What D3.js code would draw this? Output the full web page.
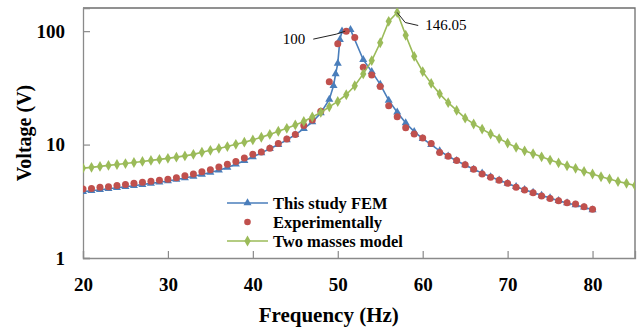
<!DOCTYPE html>
<html>
<head>
<meta charset="utf-8">
<script src="https://cdn.jsdelivr.net/npm/d3@7"></script>
<style>
  body { margin: 0; background: #fff; }
  svg { display: block; }
</style>
</head>
<body>
<div id="chart"></div>
<script>
//svg size
var svgWidth = 638;
var svgHeight = 331;

//plot area
var margin = { top: 8, right: 3, bottom: 73, left: 83 };
var width = svgWidth - margin.left - margin.right;
var height = svgHeight - margin.top - margin.bottom;

var serif = "'Liberation Serif', 'Times New Roman', serif";

//this study FEM
var femFreq = [20,21,22,23,24,25,26,27,28,29,30,31,32,33,34,35,36,37,38,39,40,41,42,43,44,45,46,47,48,
    49,49.5,49.75,50,50.25,50.5,51.5,53,54,55,56,57,58,59,60,61,62,63,64,65,66,67,68,69,70,71,72,73,74,75,76,77,78,79,80];
var femVolt = [3.85,3.92,4.0,4.08,4.16,4.25,4.34,4.44,4.55,4.66,4.78,4.92,5.07,5.25,5.45,5.68,5.95,6.28,6.7,7.2,
    7.8,8.45,9.2,10.0,11.0,12.2,13.8,15.8,19.0,
    25,33,42,52,84,100,103,56,44,34,24.5,19.3,15.5,13,11.3,10,8.8,7.9,7.2,6.6,6.05,5.6,5.2,4.85,
    4.55,4.25,4.0,3.78,3.57,3.38,3.2,3.06,2.93,2.8,2.66];

//experimentally
var expFreq = [20,21,22,23,24,25,26,27,28,29,30,31,32,33,34,35,36,37,38,39,40,41,42,43,44,45,46,47,48,49,
    50,51,52,53,54,55,56,57,58,59,60,61,62,63,64,65,66,67,68,69,70,71,72,73,74,75,76,77,78,79,80];
var expVolt = [4.05,4.1,4.2,4.25,4.35,4.45,4.55,4.65,4.75,4.85,4.95,5.1,5.3,5.5,5.75,6.0,6.35,6.7,7.1,7.6,
    8.2,8.6,9.3,10.2,11.2,12.3,14.7,16.5,19.7,35.8,77.6,100,88,48,41,32.5,22,17.6,14.1,12.4,
    11.4,10.2,8.5,7.9,7.25,6.65,6.05,5.5,5.15,4.85,4.55,4.2,3.97,3.76,3.52,3.35,3.2,3.07,2.99,2.83,2.69];

//two masses model
var twoFreq = [20,21,22,23,24,25,26,27,28,29,30,31,32,33,34,35,36,37,38,39,40,41,42,43,44,45,46,47,48,49,
    50,51,52,53,54,55,56,57,58,59,60,61,62,63,64,65,66,67,68,69,70,71,72,73,74,75,76,77,78,79,80,81,82,83,84,85];
var twoVolt = [6.2,6.3,6.42,6.55,6.68,6.8,6.95,7.1,7.25,7.4,7.56,7.75,7.95,8.2,8.55,8.9,9.25,9.6,10.05,10.5,
    11.0,11.6,12.3,13.1,13.9,14.9,16.0,17.5,19.2,21.5,24.0,27.5,33,42,55,79,122,146.05,92,60,
    44,34.6,28,23.4,20,17.1,15.2,13.7,12.4,11.3,10.3,9.45,8.8,8.3,7.8,7.3,6.9,6.5,6.17,5.8,
    5.5,5.2,4.97,4.72,4.55,4.36];

//ticks and labels
var xTicks = [20,30,40,50,60,70,80];
var yTicks = [1,10,100];
var seriesNames = ["This study FEM", "Experimentally", "Two masses model"];
var peakLabels = ["100", "146.05"];

var colors = { fem: "#4a7ebb", exp: "#c0504d", two: "#9bbb59" };

var svg = d3.select("#chart").append("svg")
    .attr("width", svgWidth)
    .attr("height", svgHeight);

var chartGroup = svg.append("g")
    .attr("transform", `translate(${margin.left}, ${margin.top})`);

var xScale = d3.scaleLinear().domain([20, 85]).range([0, width]);
var yScale = d3.scaleLog().domain([1, 160]).range([height, 0]);

//clip
svg.append("defs").append("clipPath").attr("id", "clip")
    .append("rect").attr("width", width).attr("height", height);

//top + right border
chartGroup.append("path")
    .attr("d", `M0,0 H${width} V${height}`)
    .attr("fill", "none")
    .attr("stroke", "#6e6e6e")
    .attr("stroke-width", 1.3);

//x axis
var xAxis = chartGroup.append("g")
    .attr("transform", `translate(0, ${height})`)
    .call(d3.axisBottom(xScale).tickValues(xTicks).tickSize(-7).tickFormat(d3.format("d")));
xAxis.selectAll("text").attr("y", 20).attr("dy", "0.71em");

//y axis
var yAxis = chartGroup.append("g")
    .call(d3.axisLeft(yScale).tickValues(yTicks).tickSize(-7).tickFormat(d3.format("d")));
yAxis.selectAll("text").attr("x", -18);

[xAxis, yAxis].forEach(function(ax) {
    ax.attr("font-family", null).attr("font-size", null);
    ax.selectAll("text")
        .style("font-family", serif)
        .style("font-weight", "bold")
        .style("font-size", "19px")
        .attr("fill", "#000");
    ax.select(".domain").attr("stroke", "#8a8a8a").attr("stroke-width", 1.3);
    ax.selectAll(".tick line").attr("stroke", "#8a8a8a").attr("stroke-width", 1.2);
});

var plot = chartGroup.append("g").attr("clip-path", "url(#clip)");

var line = d3.line()
    .x(d => xScale(d[0]))
    .y(d => yScale(d[1]));

var femData = d3.zip(femFreq, femVolt);
var expData = d3.zip(expFreq, expVolt);
var twoData = d3.zip(twoFreq, twoVolt);

var triangle = d3.symbol().type(d3.symbolTriangle).size(28);
var diamond = d3.symbol().type(d3.symbolDiamond).size(34);

//FEM line + triangles
plot.append("path").datum(femData)
    .attr("d", line).attr("fill", "none")
    .attr("stroke", colors.fem).attr("stroke-width", 1.6);
plot.selectAll(".fem").data(femData).enter().append("path")
    .attr("transform", d => `translate(${xScale(d[0])}, ${yScale(d[1])})`)
    .attr("d", triangle).attr("fill", colors.fem);

//experimental dots
plot.selectAll(".exp").data(expData).enter().append("circle")
    .attr("cx", d => xScale(d[0]))
    .attr("cy", d => yScale(d[1]))
    .attr("r", 3.5)
    .attr("fill", colors.exp);

//two masses line + diamonds
plot.append("path").datum(twoData)
    .attr("d", line).attr("fill", "none")
    .attr("stroke", colors.two).attr("stroke-width", 1.6);
plot.selectAll(".two").data(twoData).enter().append("path")
    .attr("transform", d => `translate(${xScale(d[0])}, ${yScale(d[1])})`)
    .attr("d", diamond).attr("fill", colors.two);

//peak annotations
var p1 = [xScale(51), yScale(100)];
chartGroup.append("path")
    .attr("d", `M${p1[0] - 33},${p1[1] + 8} L${p1[0] - 10},${p1[1] + 3} L${p1[0] - 1},${p1[1]}`)
    .attr("fill", "none").attr("stroke", "#222").attr("stroke-width", 1);
chartGroup.append("text")
    .attr("x", p1[0] - 41).attr("y", p1[1] + 13)
    .attr("text-anchor", "end")
    .style("font-family", serif).style("font-size", "15px")
    .text(peakLabels[0]);

var p2 = [xScale(57), yScale(146.05)];
chartGroup.append("path")
    .attr("d", `M${p2[0]},${p2[1]} L${p2[0] + 8},${p2[1] + 10} L${p2[0] + 21},${p2[1] + 13}`)
    .attr("fill", "none").attr("stroke", "#222").attr("stroke-width", 1);
chartGroup.append("text")
    .attr("x", p2[0] + 28).attr("y", p2[1] + 18)
    .style("font-family", serif).style("font-size", "15px")
    .text(peakLabels[1]);

//legend
var legend = svg.append("g").attr("transform", "translate(227, 203)");
var legendRows = [
    { name: seriesNames[0], color: colors.fem, line: true, sym: triangle },
    { name: seriesNames[1], color: colors.exp, line: false, sym: null },
    { name: seriesNames[2], color: colors.two, line: true, sym: diamond }
];
legendRows.forEach(function(r, i) {
    var g = legend.append("g").attr("transform", `translate(0, ${i * 19})`);
    if (r.line) {
        g.append("line").attr("x1", 0).attr("x2", 41).attr("y1", 0).attr("y2", 0)
            .attr("stroke", r.color).attr("stroke-width", 1.6);
    }
    if (r.sym) {
        g.append("path").attr("transform", "translate(20.5, 0)").attr("d", r.sym).attr("fill", r.color);
    } else {
        g.append("circle").attr("cx", 20.5).attr("cy", 0).attr("r", 3.3).attr("fill", r.color);
    }
    g.append("text").attr("x", 46).attr("y", 5.5)
        .style("font-family", serif).style("font-weight", "bold").style("font-size", "16.5px")
        .text(r.name);
});

//axis titles
svg.append("text")
    .attr("x", margin.left + xScale(50) - 9).attr("y", 322)
    .attr("text-anchor", "middle")
    .style("font-family", serif).style("font-weight", "bold").style("font-size", "21px")
    .text("Frequency (Hz)");

svg.append("text")
    .attr("transform", "translate(31, 133) rotate(-90)")
    .attr("text-anchor", "middle")
    .style("font-family", serif).style("font-weight", "bold").style("font-size", "20px")
    .text("Voltage (V)");
</script>
</body>
</html>
